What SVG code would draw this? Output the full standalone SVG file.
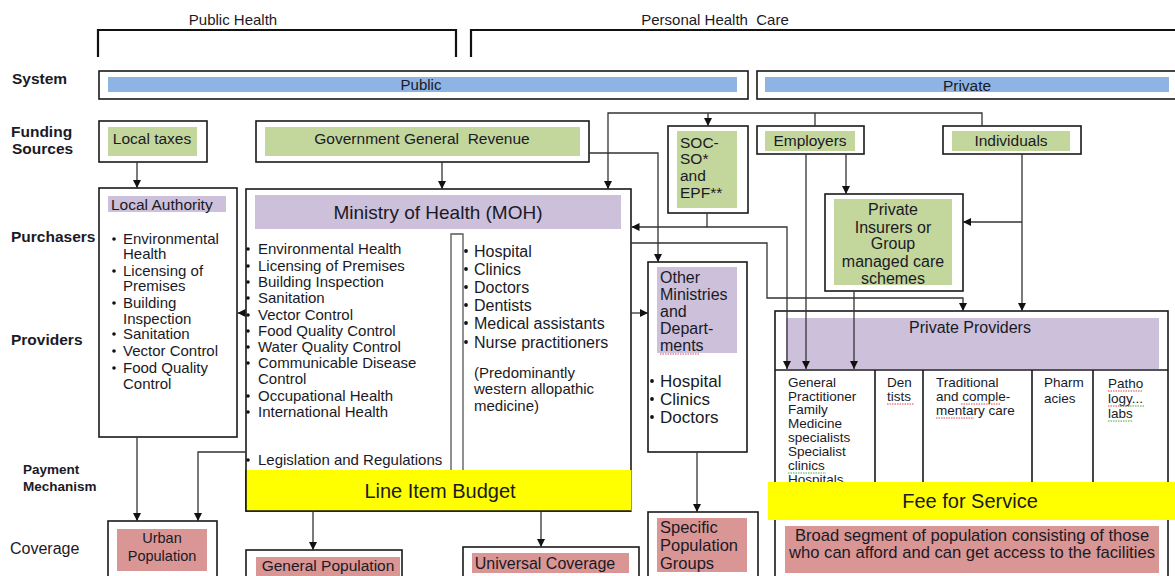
<svg xmlns="http://www.w3.org/2000/svg" width="1175" height="576" viewBox="0 0 1175 576">
<defs>
<marker id="ah" viewBox="0 0 10 10" refX="10" refY="5" markerWidth="8" markerHeight="8" orient="auto" markerUnits="userSpaceOnUse"><path d="M0,0 L10,5 L0,10 z" fill="#111"/></marker>
<style>
text{font-family:"Liberation Sans",Arial,sans-serif;fill:#1a1a26}
.lab{font-weight:bold;font-size:15.5px}
.box{fill:#fff;stroke:#1a1a1a;stroke-width:1.6}
.g{fill:#C3D69B}
.p{fill:#CCC0DA}
.k{fill:#D99694}
.b{fill:#8EB4E3}
.y{fill:#FFFF00}
.c{fill:none;stroke:#333;stroke-width:1.3}
.ca{fill:none;stroke:#333;stroke-width:1.3;marker-end:url(#ah)}
.ln{fill:none;stroke:#1a1a1a;stroke-width:1.6}
.br{fill:none;stroke:#111;stroke-width:2.2}
.dot{fill:#111}
.sq{fill:none;stroke:#e03030;stroke-width:0.9;stroke-dasharray:1.5 1}
.sqg{fill:none;stroke:#30a030;stroke-width:0.9;stroke-dasharray:1.5 1}
.f15{font-size:15px}
.f16{font-size:16px}
.f13{font-size:13.5px}
.mid{text-anchor:middle}
</style>
</defs>

<g id="headers">
<text class="f15 mid" x="233" y="24.5">Public Health</text>
<text class="f15 mid" x="715" y="24.5" style="white-space:pre">Personal Health  Care</text>
<path class="br" d="M98,57 V30 H456 V57"/>
<path class="br" d="M471,57 V30 H1180"/>
</g>

<g id="row-labels">
<text class="lab" x="12" y="84">System</text>
<text class="lab" x="11" y="137">Funding</text>
<text class="lab" x="12" y="154">Sources</text>
<text class="lab" x="11" y="241.5">Purchasers</text>
<text class="lab" x="11" y="344.5">Providers</text>
<text style="font-weight:bold;font-size:13.5px" x="23" y="473.5">Payment</text>
<text style="font-weight:bold;font-size:13.5px" x="23" y="490.5">Mechanism</text>
<text style="font-size:16px" x="10" y="553.5">Coverage</text>
</g>

<g id="system-public">
<rect class="box" x="99" y="71" width="649" height="28"/>
<rect class="b" x="108" y="77" width="629" height="15"/>
<text class="f15 mid" x="421" y="90">Public</text>
</g>
<g id="system-private">
<rect class="box" x="757" y="71" width="430" height="28"/>
<rect class="b" x="765" y="77" width="404" height="15"/>
<text class="mid" style="font-size:15.5px" x="967" y="90.5">Private</text>
</g>

<g id="local-taxes">
<rect class="box" x="99" y="121" width="108" height="41"/>
<rect class="g" x="108" y="127" width="89" height="29"/>
<text class="mid" style="font-size:15.5px" x="152" y="143.5">Local taxes</text>
</g>
<g id="gov-revenue">
<rect class="box" x="256" y="121" width="333" height="41"/>
<rect class="g" x="265" y="127" width="315" height="29"/>
<text class="mid" style="font-size:15.5px;white-space:pre" x="422" y="143.5">Government General  Revenue</text>
</g>
<g id="socso">
<rect class="box" x="668" y="126" width="80" height="87"/>
<rect class="g" x="677" y="131" width="60" height="77"/>
<text style="font-size:15.5px" x="680" y="147.5">SOC-</text>
<text style="font-size:15.5px" x="680" y="164">SO*</text>
<text style="font-size:15.5px" x="680" y="181">and</text>
<text style="font-size:15.5px" x="680" y="197.5">EPF**</text>
</g>
<g id="employers">
<rect class="box" x="757" y="126" width="107" height="28"/>
<rect class="g" x="765" y="131" width="90" height="20"/>
<text class="mid" style="font-size:15.5px" x="810" y="145.5">Employers</text>
</g>
<g id="individuals">
<rect class="box" x="943" y="126" width="138" height="28"/>
<rect class="g" x="952" y="131" width="118" height="20"/>
<text class="mid" style="font-size:15.5px" x="1011" y="145.5">Individuals</text>
</g>

<g id="local-authority">
<rect class="box" x="99" y="188" width="138" height="249"/>
<rect class="p" x="108" y="196" width="118" height="16"/>
<text style="font-size:15.5px" x="111" y="209.5">Local Authority</text>
<g class="f15">
<circle class="dot" cx="114" cy="239" r="1.8"/><text x="123" y="244.4">Environmental</text>
<text x="123" y="259.4">Health</text>
<circle class="dot" cx="114" cy="271" r="1.8"/><text x="123" y="276.4">Licensing of</text>
<text x="123" y="291.4">Premises</text>
<circle class="dot" cx="114" cy="303" r="1.8"/><text x="123" y="308.4">Building</text>
<text x="123" y="324.4">Inspection</text>
<circle class="dot" cx="114" cy="334" r="1.8"/><text x="123" y="339.4">Sanitation</text>
<circle class="dot" cx="114" cy="351" r="1.8"/><text x="123" y="356.4">Vector Control</text>
<circle class="dot" cx="114" cy="368" r="1.8"/><text x="123" y="373.4">Food Quality</text>
<text x="123" y="389.4">Control</text>
</g>
</g>

<g id="moh">
<rect class="box" x="246" y="189" width="385" height="322"/>
<rect class="p" x="255" y="195" width="366" height="34"/>
<text class="mid" style="font-size:19px" x="438" y="219">Ministry of Health (MOH)</text>
<path d="M451,470 V234 H463 V470" fill="none" stroke="#555" stroke-width="1.3"/>
<g class="f15">
<circle class="dot" cx="248" cy="249" r="1.8"/><text x="258" y="254.4">Environmental Health</text>
<circle class="dot" cx="248" cy="266" r="1.8"/><text x="258" y="271.4">Licensing of Premises</text>
<circle class="dot" cx="248" cy="282" r="1.8"/><text x="258" y="287.4">Building Inspection</text>
<circle class="dot" cx="248" cy="298" r="1.8"/><text x="258" y="303.4">Sanitation</text>
<circle class="dot" cx="248" cy="315" r="1.8"/><text x="258" y="320.4">Vector Control</text>
<circle class="dot" cx="248" cy="331" r="1.8"/><text x="258" y="336.4">Food Quality Control</text>
<circle class="dot" cx="248" cy="347" r="1.8"/><text x="258" y="352.4">Water Quality Control</text>
<circle class="dot" cx="248" cy="363" r="1.8"/><text x="258" y="368.4">Communicable Disease</text>
<text x="258" y="384.4">Control</text>
<circle class="dot" cx="248" cy="396" r="1.8"/><text x="258" y="401.4">Occupational Health</text>
<circle class="dot" cx="248" cy="412" r="1.8"/><text x="258" y="417.4">International Health</text>
<circle class="dot" cx="248" cy="460" r="1.8"/><text x="258" y="465.4">Legislation and Regulations</text>
</g>
<g class="f16">
<circle class="dot" cx="466" cy="251" r="1.9"/><text x="474" y="256.8">Hospital</text>
<circle class="dot" cx="466" cy="269" r="1.9"/><text x="474" y="274.8">Clinics</text>
<circle class="dot" cx="466" cy="287" r="1.9"/><text x="474" y="292.8">Doctors</text>
<circle class="dot" cx="466" cy="305" r="1.9"/><text x="474" y="310.8">Dentists</text>
<circle class="dot" cx="466" cy="323" r="1.9"/><text x="474" y="328.8">Medical assistants</text>
<circle class="dot" cx="466" cy="342" r="1.9"/><text x="474" y="347.8">Nurse practitioners</text>
</g>
<g class="f15">
<text x="474" y="378.4">(Predominantly</text>
<text x="474" y="394.4">western allopathic</text>
<text x="474" y="411.4">medicine)</text>
</g>
</g>

<g id="line-item-budget">
<rect class="y" x="246" y="470" width="385.5" height="41"/>
<path class="ln" d="M246,470 V511 H631"/>
<text class="mid" style="font-size:20px" x="440" y="498">Line Item Budget</text>
</g>

<g id="other-ministries">
<rect class="box" x="648" y="262" width="99" height="190"/>
<rect class="p" x="657" y="267" width="80" height="86"/>
<g class="f16">
<text x="660" y="282.8">Other</text>
<text x="660" y="299.8">Ministries</text>
<text x="660" y="316.8">and</text>
<text x="660" y="333.8">Depart-</text>
<text x="660" y="350.8">ments</text>
</g>
<path class="sq" d="M660,354 H699"/>
<g style="font-size:17px">
<circle class="dot" cx="652" cy="381" r="1.9"/><text x="660" y="387">Hospital</text>
<circle class="dot" cx="652" cy="399" r="1.9"/><text x="660" y="405">Clinics</text>
<circle class="dot" cx="652" cy="417" r="1.9"/><text x="660" y="423">Doctors</text>
</g>
</g>

<g id="private-insurers">
<rect class="box" x="825" y="194" width="138" height="97"/>
<rect class="g" x="834" y="199" width="118" height="86"/>
<g class="f16 mid">
<text x="893" y="214.8">Private</text>
<text x="893" y="232.8">Insurers or</text>
<text x="893" y="248.8">Group</text>
<text x="893" y="266.8">managed care</text>
<text x="893" y="283.8">schemes</text>
</g>
</g>

<g id="private-providers">
<rect class="box" x="775" y="311" width="393" height="275"/>
<rect class="p" x="786" y="318" width="373" height="51"/>
<text class="mid f16" x="970" y="333">Private Providers</text>
<path class="ln" d="M775,370 H1168 M875,370 V482 M923,370 V482 M1032,370 V482 M1093,370 V482"/>
<g class="f13">
<text x="788" y="386.9">General</text>
<text x="788" y="400.9">Practitioner</text>
<text x="788" y="413.9">Family</text>
<text x="788" y="427.9">Medicine</text>
<text x="788" y="441.9">specialists</text>
<text x="788" y="455.9">Specialist</text>
<text x="788" y="469.9">clinics</text>
<text x="788" y="483.9">Hospitals</text>
<text x="887" y="386.9">Den</text>
<text x="887" y="400.9">tists</text>
<text x="936" y="386.9">Traditional</text>
<text x="936" y="400.9">and comple-</text>
<text x="936" y="414.9">mentary care</text>
<text x="1044" y="386.9">Pharm</text>
<text x="1044" y="402.9">acies</text>
<text x="1108" y="387.9">Patho</text>
<text x="1108" y="402.9">logy...</text>
<text x="1108" y="417.9">labs</text>
</g>
<path class="sq" d="M887,404 H914 M961,404 H1001 M936,418 H974 M1108,391 H1143 M1108,406 H1130"/>
<path class="sqg" d="M788,473 H826 M1120,406 H1145 M1108,421 H1133"/>
</g>

<g id="fee-for-service">
<rect class="y" x="768" y="482" width="407" height="38"/>
<text class="mid" style="font-size:20px" x="970" y="508">Fee for Service</text>
</g>

<g id="urban-population">
<rect class="box" x="108" y="521" width="109" height="70"/>
<rect class="k" x="117" y="529" width="90" height="42"/>
<text class="mid" style="font-size:14.5px" x="162" y="543.2">Urban</text>
<text class="mid" style="font-size:14.5px" x="162" y="561.2">Population</text>
</g>
<g id="general-population">
<rect class="box" x="246" y="550" width="156" height="40"/>
<rect class="k" x="256" y="557" width="144" height="25"/>
<text class="mid" style="font-size:15.5px" x="328" y="570.5">General Population</text>
</g>
<g id="universal-coverage">
<rect class="box" x="463" y="547" width="176" height="40"/>
<rect class="k" x="472" y="553" width="157" height="20"/>
<text class="mid f16" x="545" y="568.8">Universal Coverage</text>
</g>
<g id="specific-groups">
<rect class="box" x="648" y="512" width="110" height="80"/>
<rect class="k" x="657" y="518" width="90" height="54"/>
<g style="font-size:16.5px">
<text x="660" y="533">Specific</text>
<text x="660" y="551">Population</text>
<text x="660" y="569">Groups</text>
</g>
</g>
<g id="broad-segment">
<rect class="k" x="785" y="526" width="374" height="47"/>
<text class="mid" style="font-size:16.6px" x="972" y="540.8">Broad segment of population consisting of those</text>
<text class="mid" style="font-size:16.6px" x="972" y="557.8">who can afford and can get access to the facilities</text>
</g>

<g id="connectors">
<path class="ca" d="M137,162 V188"/>
<path class="ca" d="M442,162 V189"/>
<path class="ca" d="M589,153 H658 V262"/>
<path class="ca" d="M982,126 V113 H608 V189"/>
<path class="c" d="M815,126 V113"/>
<path class="ca" d="M708,113 V126"/>
<path class="ca" d="M246,313 H237.5"/>
<path class="ca" d="M631,313 H648"/>
<path class="ca" d="M707,227 H631.5"/>
<path class="ca" d="M707,213 V227 H787 V369"/>
<path class="ca" d="M631,243 H767 V298 H963 V311"/>
<path class="ca" d="M1022,154 V311"/>
<path class="ca" d="M1022,222 H963"/>
<path class="ca" d="M806,154 V369"/>
<path class="ca" d="M846,154 V194"/>
<path class="ca" d="M854,291 V369"/>
<path class="ca" d="M697,452 V512"/>
<path class="ca" d="M137,437 V521"/>
<path class="ca" d="M246,452 H198 V521"/>
<path class="ca" d="M313,511 V550"/>
<path class="ca" d="M541,511 V547"/>
</g>
</svg>
